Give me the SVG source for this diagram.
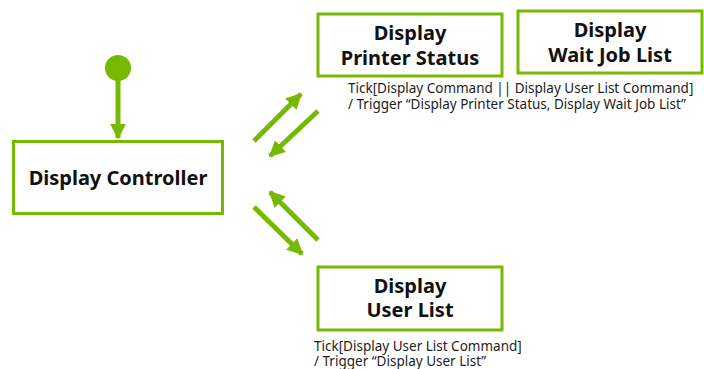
<svg xmlns="http://www.w3.org/2000/svg" width="704" height="369" viewBox="0 0 704 369">
<style>
.box{fill:#fff;stroke:#76b900;stroke-width:3}
.t{font-family:"Noto Sans","Open Sans",sans-serif;font-weight:bold;font-size:20px;fill:#111;text-anchor:middle}
.s{font-family:"Noto Sans","Open Sans",sans-serif;font-size:13.5px;fill:#222}
.c{stroke:#76b900;stroke-width:5;fill:none}
</style>
<defs>
<marker id="ah" viewBox="0 0 10 10" refX="9" refY="5" markerWidth="3.2" markerHeight="3.2" orient="auto" markerUnits="strokeWidth">
<path d="M0,0 L10,5 L0,10 z" fill="#76b900"/>
</marker>
</defs>
<g id="connectors">
<circle cx="118" cy="68" r="13" fill="#76b900"/>
<line class="c" x1="118" y1="76" x2="118" y2="138" marker-end="url(#ah)"/>
<line class="c" x1="254" y1="141" x2="301" y2="94" marker-end="url(#ah)"/>
<line class="c" x1="318" y1="111" x2="270" y2="156" marker-end="url(#ah)"/>
<line class="c" x1="318" y1="240" x2="270" y2="192" marker-end="url(#ah)"/>
<line class="c" x1="254" y1="207" x2="302" y2="254" marker-end="url(#ah)"/>
</g>
<g id="controller">
<rect class="box" x="13.5" y="141.5" width="209" height="72"/>
<text class="t" x="118" y="185">Display Controller</text>
</g>
<g id="printer-status">
<rect class="box" x="318" y="14" width="184" height="62"/>
<text class="t" x="410" y="40">Display</text>
<text class="t" x="410" y="65">Printer Status</text>
</g>
<g id="wait-job-list">
<rect class="box" x="518" y="11" width="184" height="62"/>
<text class="t" x="610" y="37">Display</text>
<text class="t" x="610" y="62">Wait Job List</text>
</g>
<g id="user-list">
<rect class="box" x="318" y="267" width="184" height="63"/>
<text class="t" x="410" y="293">Display</text>
<text class="t" x="410" y="317">User List</text>
</g>
<g id="labels">
<text class="s" x="348" y="93">Tick[Display Command || Display User List Command]</text>
<text class="s" x="348" y="109">/ Trigger “Display Printer Status, Display Wait Job List”</text>
<text class="s" x="314" y="351">Tick[Display User List Command]</text>
<text class="s" x="314" y="366">/ Trigger “Display User List”</text>
</g>
</svg>
